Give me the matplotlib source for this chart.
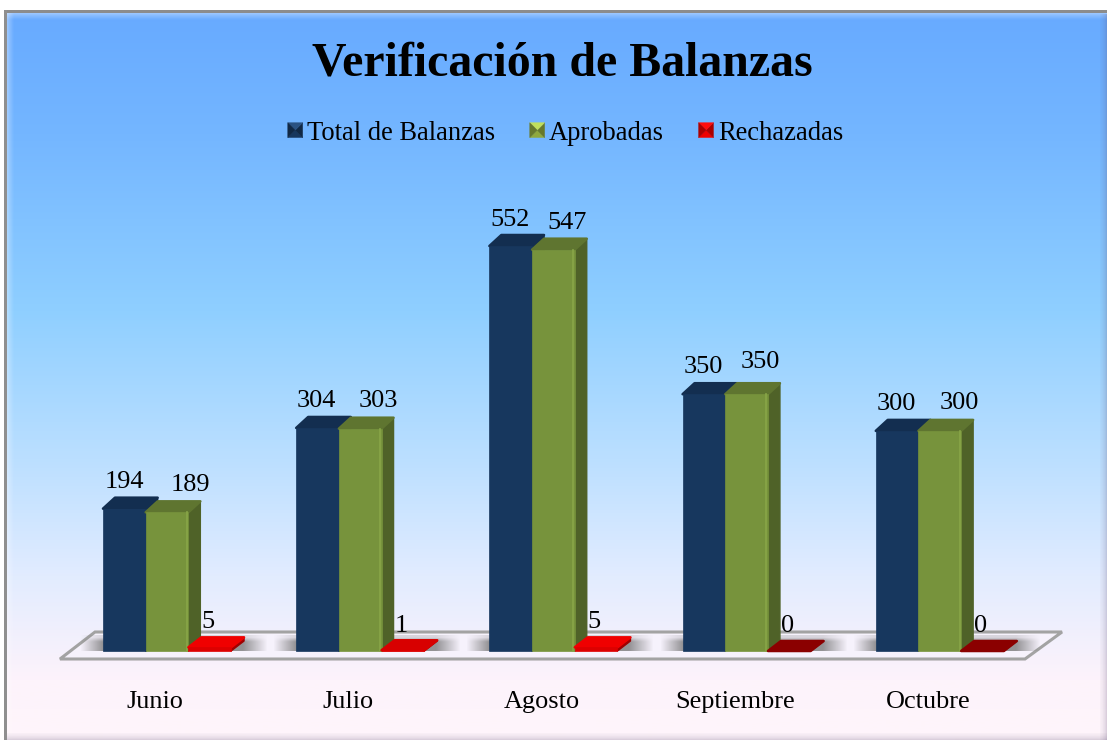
import numpy as np
import matplotlib
matplotlib.use('Agg')
import matplotlib.pyplot as plt
from matplotlib.colors import LinearSegmentedColormap
from matplotlib.legend_handler import HandlerBase
from matplotlib.patches import Patch, Polygon, Rectangle

plt.rcParams['font.family'] = ['Liberation Serif', 'DejaVu Serif']

meses = ['Junio', 'Julio', 'Agosto', 'Septiembre', 'Octubre']
total = [194, 304, 552, 350, 300]
aprobadas = [189, 303, 547, 350, 300]
rechazadas = [5, 1, 5, 0, 0]
series_names = ['Total de Balanzas', 'Aprobadas', 'Rechazadas']

W, H = 1107, 740
px_x = 193.2        # pixeles por categoria
px_y = 0.7337       # pixeles por unidad
base_px = 651       # fila del cero
first_px = 167      # centro del primer grupo
bar_w = 42.7 / px_x
dx = 12 / px_x      # profundidad 3d
dy = 11 / px_y

fig = plt.figure(figsize=(W / 100, H / 100), dpi=100)
ax = fig.add_axes([0, 0, 1, 1])
xlim = (-first_px / px_x, (W - first_px) / px_x)
ylim = ((base_px - H) / px_y, base_px / px_y)
ax.axis('off')

# fondo degradado
bg = LinearSegmentedColormap.from_list('bg', [
    (0.0, '#66a9ff'), (0.18, '#74b6ff'), (0.42, '#8fcfff'), (0.62, '#bbdfff'),
    (0.78, '#e2ecff'), (0.92, '#fdf3fb'), (1.0, '#fff5fb')])
ax.imshow(np.linspace(0, 1, 256).reshape(-1, 1), cmap=bg, aspect='auto',
          extent=(xlim[0], xlim[1], ylim[0], ylim[1]), zorder=0)


def px(x, y):
    return x / W, 1 - y / H


def px_rect(x0, y0, x1, y1, color, alpha=1.0, z=2):
    ax.add_patch(Rectangle(px(x0, y1), (x1 - x0) / W, (y1 - y0) / H, fc=color, ec='none', alpha=alpha,
                           transform=ax.transAxes, zorder=z))


# marco: blanco fuera, gris arriba e izquierda, biselado claro dentro
px_rect(0, 0, 4, H, 'white', z=1)
px_rect(0, 0, W, 10, 'white', z=1)
for i, a in enumerate([0.34, 0.28, 0.22, 0.17, 0.12, 0.07, 0.03]):
    px_rect(7 + i, 13, 8 + i, H, 'white', a)
    px_rect(7, 13 + i, W, 14 + i, 'white', a)
for i, a in enumerate([0.03, 0.05, 0.07, 0.10, 0.13, 0.17, 0.22]):
    px_rect(1100 + i, 14, 1101 + i, H, '#5a4a70', a)
    px_rect(7, 733 + i, W, 734 + i, '#5a4a70', a)
px_rect(4, 10, W, 13, '#8c8c8c', z=5)
px_rect(4, 10, 7, H, '#8f8f8f', z=5)

# piso
floor_y0 = (base_px - 659) / px_y
floor_y1 = (base_px - 632) / px_y
floor = [((60 - first_px) / px_x, floor_y0), ((1025 - first_px) / px_x, floor_y0),
         ((1062 - first_px) / px_x, floor_y1), ((95 - first_px) / px_x, floor_y1)]
ax.add_patch(Polygon(floor, closed=True, fc='#f6f2fc', ec='#a3a3a3', lw=2.2, zorder=2))

# sombra de cada grupo sobre el piso
xs = np.linspace(0, 1, 190)
ys = np.linspace(0, 1, 17)
profile = np.minimum(np.clip(xs / 0.12, 0, 1), np.clip((1 - xs) / 0.13, 0, 1))
shadow = np.zeros((17, 190, 4))
shadow[..., :3] = 0.45
shadow[..., 3] = 0.75 * np.outer(np.clip(ys / 0.4, 0.3, 1), profile)
for i in range(len(meses)):
    left = i - (167 - 80) / px_x
    ax.imshow(shadow, aspect='auto', zorder=3,
              extent=(left, left + 188 / px_x, 0, (base_px - 635) / px_y))


def bar3d(x, v, front, side, top, z, d=(dx, dy)):
    ox, oy = d
    ax.add_patch(Polygon([(x + bar_w, 0), (x + bar_w + ox, oy), (x + bar_w + ox, v + oy), (x + bar_w, v)],
                         closed=True, fc=side, ec=side, lw=1.0, joinstyle='round', zorder=z))
    ax.add_patch(Polygon([(x, v), (x + ox, v + oy), (x + bar_w + ox, v + oy), (x + bar_w, v)],
                         closed=True, fc=top, ec=top, lw=1.8, joinstyle='round', zorder=z))
    if v > 0:
        ax.add_patch(Rectangle((x, 0), bar_w, v, fc=front, ec=front, lw=0.5, zorder=z + 0.1))


x = np.arange(len(meses))
for i in x:
    bar3d(i - 1.5 * bar_w, total[i], '#17375e', '#10294a', '#132e50', 4)
for i in x:
    bar3d(i - 0.5 * bar_w, aprobadas[i], '#77933c', '#4f6228', '#5f7530', 4.3)
    ax.plot([i + 0.5 * bar_w - 1.5 / px_x] * 2, [0, aprobadas[i]], color='#88a648', lw=1.2, zorder=4.5)
red_d = (13 / px_x, 10 / px_y)
for i in x:
    v = rechazadas[i]
    if v >= 1:
        bar3d(i + 0.5 * bar_w, v, '#dd0000', '#a00000', '#f00000' if v > 1 else '#d80000', 4.6, red_d)
    else:
        bar3d(i + 0.5 * bar_w, v, '#8b0000', '#8b0000', '#8b0000', 4.6, red_d)

# etiquetas de datos, desplazadas a mano como en el original
label_fs = 18.9
blue_nudge = [(0, 27), (-1, 27), (-1, 26), (-1, 27), (-1, 27)]
green_nudge = [(23, 27), (18, 28), (14, 27), (14, 32), (20, 28)]
red_nudge = [(-2, 25), (-2, 24), (-2, 25), (-2, 25), (-2, 25)]
for i in x:
    ax.annotate(str(total[i]), (i - bar_w, total[i]), xytext=(blue_nudge[i][0] * 0.72, blue_nudge[i][1] * 0.72),
                textcoords='offset points', ha='center', va='center', fontsize=label_fs, color='black', zorder=6)
    ax.annotate(str(aprobadas[i]), (i, aprobadas[i]), xytext=(green_nudge[i][0] * 0.72, green_nudge[i][1] * 0.72),
                textcoords='offset points', ha='center', va='center', fontsize=label_fs, color='black', zorder=6)
    ax.annotate(str(rechazadas[i]), (i + bar_w, rechazadas[i]), xytext=(red_nudge[i][0] * 0.72, red_nudge[i][1] * 0.72),
                textcoords='offset points', ha='center', va='center', fontsize=label_fs, color='black', zorder=6)
    ax.text(i - 12 / px_x, (base_px - 702) / px_y, meses[i], ha='center', va='center',
            fontsize=label_fs, color='black', zorder=6)

ax.text(562.5 / W, 1 - 63 / H, 'Verificación de Balanzas', transform=ax.transAxes, ha='center', va='center',
        fontsize=34.5, fontweight='bold', color='black', zorder=6)


class BevelHandler(HandlerBase):
    # cuadrado con cuatro caras, como el marcador de la leyenda original
    def create_artists(self, legend, orig, xd, yd, w, h, fs, trans):
        c = matplotlib.colors.to_rgb(orig.get_facecolor())
        dark = tuple(v * 0.72 for v in c)
        light = tuple(min(1, v * 1.25 + 0.05) for v in c)
        x0, y0 = -xd, -yd + (h - w) / 2
        cx, cy = x0 + w / 2, y0 + w / 2
        corners = [(x0, y0), (x0 + w, y0), (x0 + w, y0 + w), (x0, y0 + w)]
        out = []
        for k, col in enumerate([c, dark, light, dark]):
            out.append(Polygon([corners[k], corners[(k + 1) % 4], (cx, cy)], closed=True, fc=col, ec=col,
                               lw=0.3, transform=trans))
        return out


handles = [Patch(fc='#17375e'), Patch(fc='#8fa83f'), Patch(fc='#ee0000')]
leg = ax.legend(handles, series_names, ncol=3, frameon=False, fontsize=19.1, loc='center',
                bbox_to_anchor=(565.5 / W, 1 - 133 / H), handlelength=0.56, handleheight=0.56,
                handletextpad=0.17, columnspacing=1.3, borderpad=0, labelspacing=0,
                handler_map={Patch: BevelHandler()})
leg.set_zorder(6)

ax.set_xlim(*xlim)
ax.set_ylim(*ylim)
fig.savefig('out.png', dpi=100)
